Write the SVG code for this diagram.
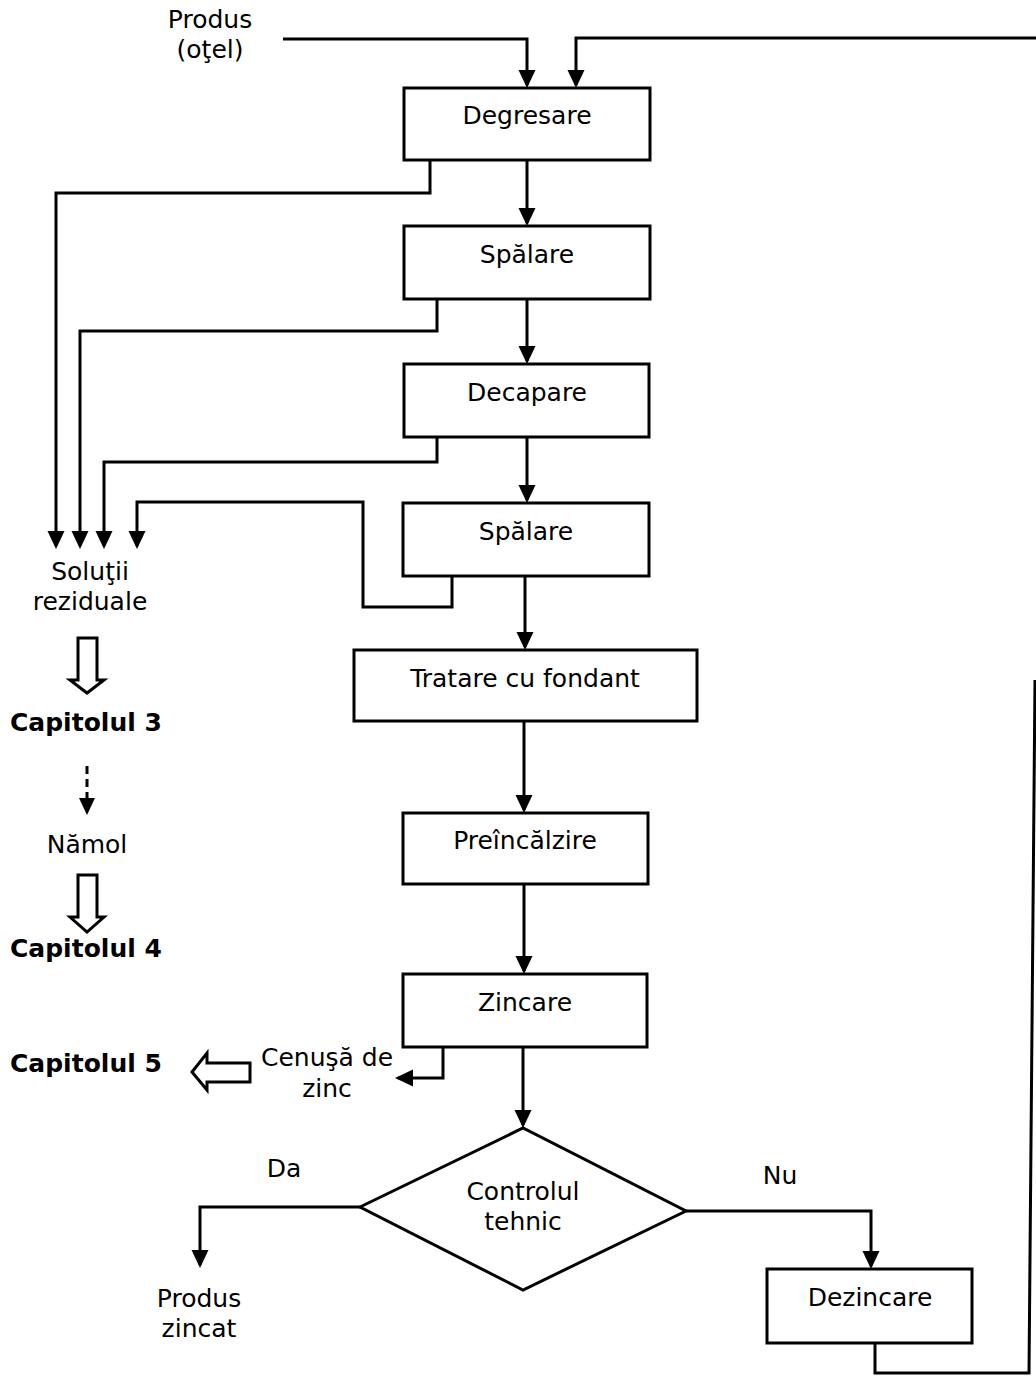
<svg xmlns="http://www.w3.org/2000/svg" width="1036" height="1376" viewBox="0 0 1036 1376">
  <defs>
    <marker id="arrow" viewBox="0 0 18 18" refX="15" refY="9" markerWidth="18" markerHeight="18" markerUnits="userSpaceOnUse" orient="auto">
      <path d="M0,0.5 L18,9 L0,17.5 z" fill="#000"/>
    </marker>
    <style>
      .box { fill: #fff; stroke: #000; stroke-width: 3; }
      .line { fill: none; stroke: #000; stroke-width: 3; }
      .arr { fill: none; stroke: #000; stroke-width: 3; marker-end: url(#arrow); }
      .dash { fill: none; stroke: #000; stroke-width: 3; stroke-dasharray: 8 5; }
      .hollow { fill: #fff; stroke: #000; stroke-width: 3; stroke-linejoin: miter; }
      text { font-family: "DejaVu Sans", Verdana, sans-serif; font-size: 25px; fill: #000; }
      .c { text-anchor: middle; }
      .b { font-weight: bold; font-size: 25px; }
    </style>
  </defs>
  <rect width="1036" height="1376" fill="#fff"/>

  <!-- flow connectors -->
  <g id="connectors">
    <!-- input and recirculation into degreasing -->
    <polyline class="arr" points="283,39 527,39 527,85"/>
    <polyline class="arr" points="1036,38 576,38 576,85"/>
    <!-- main line -->
    <line class="arr" x1="527" y1="160" x2="527" y2="223"/>
    <line class="arr" x1="527" y1="299" x2="527" y2="361"/>
    <line class="arr" x1="527" y1="437" x2="527" y2="500"/>
    <line class="arr" x1="525" y1="576" x2="525" y2="647"/>
    <line class="arr" x1="524" y1="721" x2="524" y2="810"/>
    <line class="arr" x1="524" y1="884" x2="524" y2="971"/>
    <line class="arr" x1="523" y1="1047" x2="523" y2="1125"/>
    <!-- spent solutions -->
    <polyline class="arr" points="430,160 430,193 56,193 56,546"/>
    <polyline class="arr" points="437,299 437,331 80,331 80,546"/>
    <polyline class="arr" points="437,437 437,462 104,462 104,546"/>
    <polyline class="arr" points="452,576 452,607 363,607 363,502 137,502 137,546"/>
    <!-- zinc ash -->
    <polyline class="arr" points="443,1047 443,1078 398,1078"/>
    <!-- quality control outcomes -->
    <polyline class="arr" points="360,1207 200,1207 200,1265"/>
    <polyline class="arr" points="686,1211 871,1211 871,1266"/>
    <!-- stripped parts returned -->
    <polyline class="line" points="875,1343 875,1373 1029,1373 1035,680"/>
    <!-- sludge -->
    <line class="dash" x1="87" y1="766" x2="87" y2="800"/>
    <path d="M79,798 L95,798 L87,815 z" fill="#000"/>
    <!-- hollow transfer arrows -->
    <path class="hollow" d="M78,638 L97,638 L97,680 L104,680 L87,693 L70,680 L78,680 z"/>
    <path class="hollow" d="M78,875 L97,875 L97,917 L104,917 L87,932 L70,917 L78,917 z"/>
    <path class="hollow" d="M250,1063 L250,1082 L207,1082 L207,1090 L192,1072 L207,1053 L207,1063 z"/>
  </g>

  <g id="degresare">
    <rect class="box" x="404" y="88" width="246" height="72"/>
    <text class="c" x="527" y="124">Degresare</text>
  </g>
  <g id="spalare1">
    <rect class="box" x="404" y="226" width="246" height="73"/>
    <text class="c" x="527" y="263">Spălare</text>
  </g>
  <g id="decapare">
    <rect class="box" x="404" y="364" width="245" height="73"/>
    <text class="c" x="527" y="401">Decapare</text>
  </g>
  <g id="spalare2">
    <rect class="box" x="403" y="503" width="246" height="73"/>
    <text class="c" x="526" y="540">Spălare</text>
  </g>
  <g id="fondant">
    <rect class="box" x="354" y="650" width="343" height="71"/>
    <text class="c" x="525" y="687">Tratare cu fondant</text>
  </g>
  <g id="preincalzire">
    <rect class="box" x="403" y="813" width="245" height="71"/>
    <text class="c" x="525" y="849">Preîncălzire</text>
  </g>
  <g id="zincare">
    <rect class="box" x="403" y="974" width="244" height="73"/>
    <text class="c" x="525" y="1011">Zincare</text>
  </g>
  <g id="control">
    <polygon class="box" points="360,1207 523,1128 686,1211 523,1290"/>
    <text class="c" x="523" y="1200">Controlul</text>
    <text class="c" x="523" y="1230">tehnic</text>
  </g>
  <g id="dezincare">
    <rect class="box" x="767" y="1269" width="205" height="74"/>
    <text class="c" x="870" y="1306">Dezincare</text>
  </g>

  <g id="produs-otel">
    <text class="c" x="210" y="28">Produs</text>
    <text class="c" x="210" y="58">(oţel)</text>
  </g>
  <g id="solutii">
    <text class="c" x="90" y="580">Soluţii</text>
    <text class="c" x="90" y="610">reziduale</text>
  </g>
  <g id="cap3">
    <text class="b" x="10" y="731">Capitolul 3</text>
  </g>
  <g id="namol">
    <text class="c" x="87" y="853">Nămol</text>
  </g>
  <g id="cap4">
    <text class="b" x="10" y="957">Capitolul 4</text>
  </g>
  <g id="cap5">
    <text class="b" x="10" y="1072">Capitolul 5</text>
  </g>
  <g id="cenusa">
    <text class="c" x="327" y="1066">Cenuşă de</text>
    <text class="c" x="327" y="1097">zinc</text>
  </g>
  <g id="labels">
    <text class="c" x="284" y="1177">Da</text>
    <text class="c" x="780" y="1184">Nu</text>
  </g>
  <g id="produs-zincat">
    <text class="c" x="199" y="1307">Produs</text>
    <text class="c" x="199" y="1337">zincat</text>
  </g>
</svg>
